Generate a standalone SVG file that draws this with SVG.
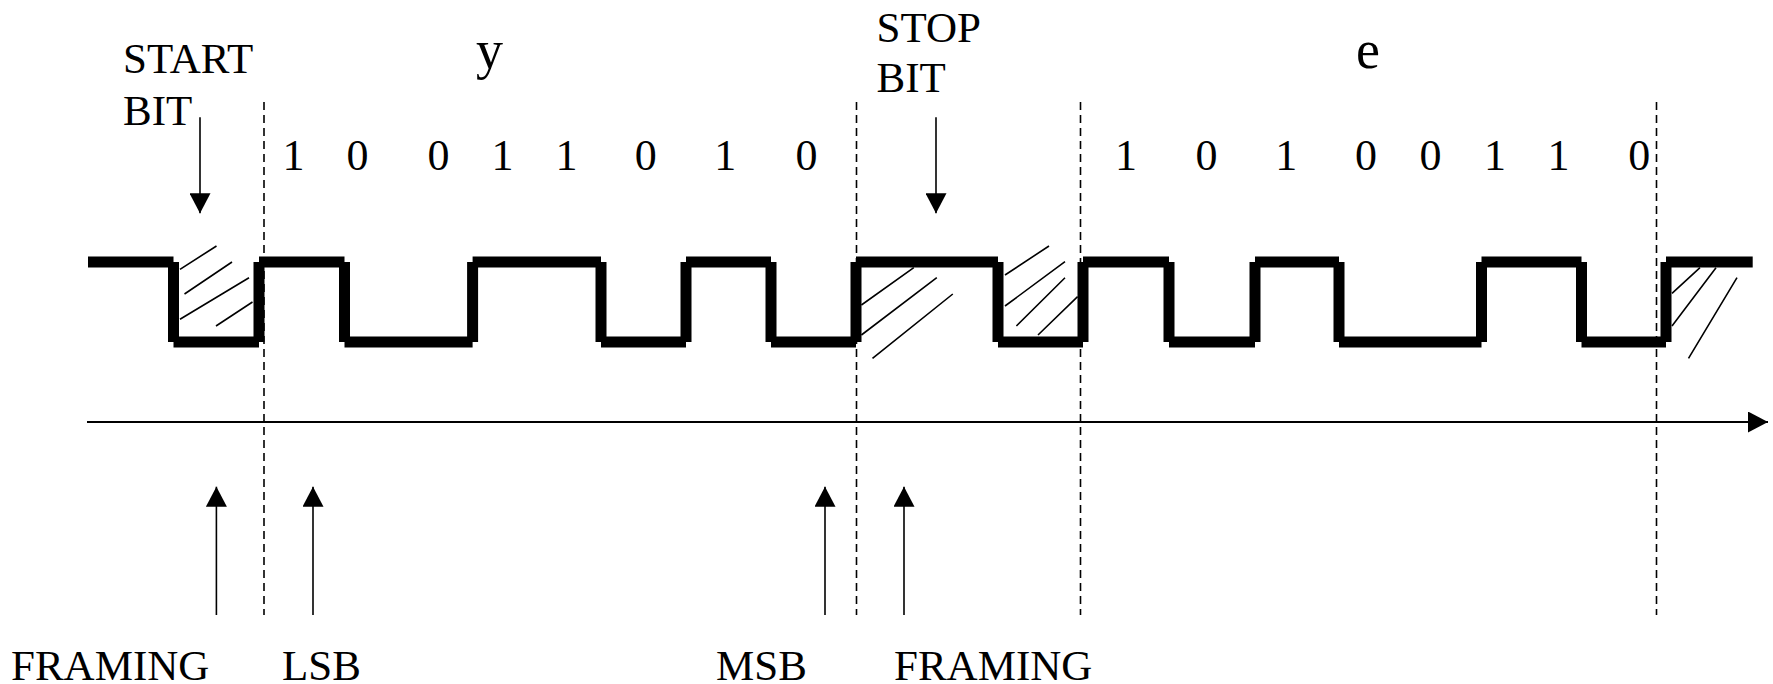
<svg xmlns="http://www.w3.org/2000/svg" width="1773" height="684" viewBox="0 0 1773 684">
<style>
  .t { font-family: "Liberation Serif", "Times New Roman", serif; font-size: 43px; fill: #000; }
  .d { font-family: "Liberation Serif", "Times New Roman", serif; font-size: 44px; fill: #000; text-anchor: middle; }
  .big { font-family: "Liberation Serif", "Times New Roman", serif; font-size: 54px; fill: #000; }
  .wave { fill: none; stroke: #000; stroke-width: 11; stroke-linecap: butt; }
  .hatch { fill: none; stroke: #000; stroke-width: 1.6; }
  .dash { fill: none; stroke: #000; stroke-width: 1.6; stroke-dasharray: 8 5; }
  .arr { fill: none; stroke: #000; stroke-width: 1.6; marker-end: url(#ah); }
  .axis { fill: none; stroke: #000; stroke-width: 2.2; marker-end: url(#ah); }
</style>
<defs>
  <marker id="ah" markerUnits="userSpaceOnUse" markerWidth="20" markerHeight="21" refX="20" refY="10.5" orient="auto" viewBox="0 0 20 21">
    <path d="M0,0 L20,10.5 L0,21 z" fill="#000"/>
  </marker>
</defs>
<rect width="1773" height="684" fill="#fff"/>

<g id="dashed-lines">
  <line class="dash" x1="264" y1="102" x2="264" y2="615"/>
  <line class="dash" x1="856.5" y1="102" x2="856.5" y2="615"/>
  <line class="dash" x1="1080.5" y1="102" x2="1080.5" y2="615"/>
  <line class="dash" x1="1656.5" y1="102" x2="1656.5" y2="615"/>
</g>

<g id="waveform">
  <path class="wave" d="M88 262H173.5 M173.5 262V342 M173.5 342H259 M259 342V262 M259 262H344.5 M344.5 262V342 M344.5 342H472.6 M472.6 342V262 M472.6 262H601 M601 262V342 M601 342H686 M686 342V262 M686 262H771 M771 262V342 M771 342H856 M856 342V262 M856 262H998 M998 262V342 M998 342H1083 M1083 342V262 M1083 262H1169 M1169 262V342 M1169 342H1255 M1255 342V262 M1255 262H1339 M1339 262V342 M1339 342H1481.5 M1481.5 342V262 M1481.5 262H1581.5 M1581.5 262V342 M1581.5 342H1666 M1666 342V262 M1666 262H1752.7"/>
</g>

<g id="hatching">
  <path class="hatch" d="M180 269.3L216.5 246 M184.5 294L232 262 M180 319.3L249 277.7 M216 326L252.5 302"/>
  <path class="hatch" d="M861.4 305L913.8 267.7 M861.4 335L936.8 277.7 M872.5 358.3L952.8 294"/>
  <path class="hatch" d="M1005 275L1049 246 M1005 306L1065 261.7 M1016.4 326L1065 277.7 M1038 335L1077.6 296.7"/>
  <path class="hatch" d="M1672 293.3L1700 267.7 M1672 326L1716 267.7 M1688.5 358.3L1737 277.7"/>
</g>

<g id="connectors">
  <line class="axis" x1="87" y1="422" x2="1768" y2="422"/>
  <line class="arr" x1="200" y1="117.3" x2="200" y2="213.3"/>
  <line class="arr" x1="936" y1="117.3" x2="936" y2="213.3"/>
  <line class="arr" x1="216.4" y1="615" x2="216.4" y2="486.7"/>
  <line class="arr" x1="313" y1="615" x2="313" y2="486.7"/>
  <line class="arr" x1="825" y1="615" x2="825" y2="486.7"/>
  <line class="arr" x1="904" y1="615" x2="904" y2="486.7"/>
</g>

<g id="start-bit-label">
  <text class="t" x="123" y="73.3">START</text>
  <text class="t" x="123" y="125">BIT</text>
</g>
<g id="stop-bit-label">
  <text class="t" x="876.5" y="41.7">STOP</text>
  <text class="t" x="876.5" y="91.7">BIT</text>
</g>
<g id="char-y">
  <text class="big" x="476" y="68">y</text>
</g>
<g id="char-e">
  <text class="big" x="1356" y="67.7">e</text>
</g>
<g id="bits-y">
  <text class="d" x="293.5" y="170">1</text>
  <text class="d" x="357.5" y="170">0</text>
  <text class="d" x="438.5" y="170">0</text>
  <text class="d" x="502.5" y="170">1</text>
  <text class="d" x="566.5" y="170">1</text>
  <text class="d" x="645.8" y="170">0</text>
  <text class="d" x="725.3" y="170">1</text>
  <text class="d" x="806.5" y="170">0</text>
</g>
<g id="bits-e">
  <text class="d" x="1126" y="170">1</text>
  <text class="d" x="1206.5" y="170">0</text>
  <text class="d" x="1286.3" y="170">1</text>
  <text class="d" x="1366" y="170">0</text>
  <text class="d" x="1430.4" y="170">0</text>
  <text class="d" x="1495" y="170">1</text>
  <text class="d" x="1558.4" y="170">1</text>
  <text class="d" x="1639.3" y="170">0</text>
</g>
<g id="bottom-labels">
  <text class="t" x="11" y="680">FRAMING</text>
  <text class="t" x="282" y="680">LSB</text>
  <text class="t" x="716" y="680">MSB</text>
  <text class="t" x="894" y="680">FRAMING</text>
</g>
</svg>
